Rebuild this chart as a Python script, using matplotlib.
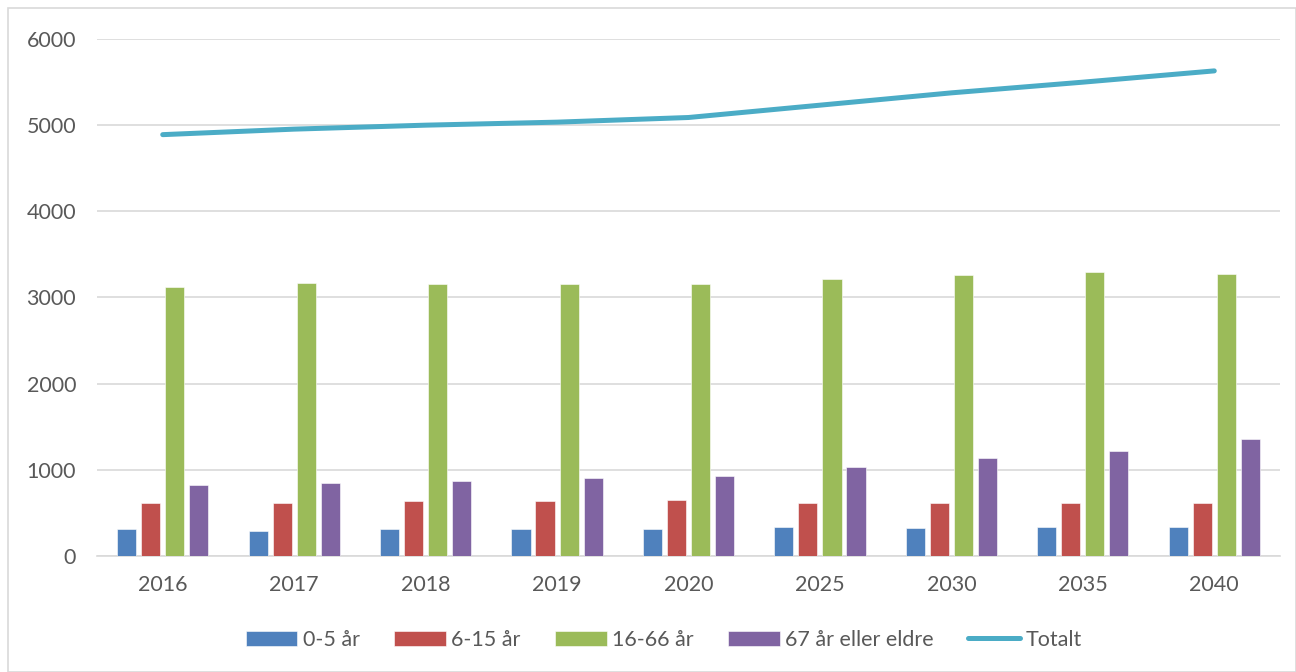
import matplotlib
matplotlib.use("Agg")
import matplotlib.pyplot as plt
import numpy as np
from matplotlib.patches import Rectangle

years = ["2016", "2017", "2018", "2019", "2020", "2025", "2030", "2035", "2040"]
age_0_5 = [310, 290, 310, 310, 317, 336, 328, 336, 336]
age_6_15 = [611, 618, 641, 641, 650, 618, 618, 620, 620]
age_16_66 = [3121, 3164, 3152, 3152, 3155, 3210, 3260, 3291, 3275]
age_67 = [824, 843, 870, 908, 928, 1032, 1137, 1218, 1361]
totalt = [4890, 4954, 5000, 5035, 5089, 5232, 5375, 5499, 5630]
series_labels = ["0-5 år", "6-15 år", "16-66 år", "67 år eller eldre", "Totalt"]
yticks = [0, 1000, 2000, 3000, 4000, 5000, 6000]

colors = ["#4F81BD", "#C0504D", "#9BBB59", "#8064A2"]
line_color = "#4BACC6"

plt.rcParams['font.family'] = ['Lato', 'DejaVu Sans']
FS = 15.5

fig = plt.figure(figsize=(12.96, 6.72), dpi=100)
ax = fig.add_axes([97/1296, (672-556)/672, (1280-97)/1296, (556-39)/672])

x = np.arange(len(years))
pitch = 0.183
width = 0.145
handles = []
for i, (vals, c, lab) in enumerate(zip([age_0_5, age_6_15, age_16_66, age_67], colors, series_labels[:4])):
    h = ax.bar(x + (i - 1.5) * pitch, vals, width=width, color=c, label=lab,
               edgecolor="white", linewidth=0.4, zorder=3)
    handles.append(h)
ln, = ax.plot(x, totalt, color=line_color, linewidth=3.6, label=series_labels[4],
              solid_capstyle="round", zorder=4)
handles.append(ln)

ax.set_xlim(-0.5, len(years) - 0.5)
ax.set_ylim(0, 6000)
ax.set_yticks(yticks)
ax.set_yticklabels([str(v) for v in yticks])
ax.set_xticks(x)
ax.set_xticklabels(years)
ax.grid(axis="y", color="#d9d9d9", linewidth=1.2, zorder=0)
for s in ["top", "right", "left"]:
    ax.spines[s].set_visible(False)
ax.spines["bottom"].set_color("#d9d9d9")
ax.spines["bottom"].set_linewidth(1.2)
ax.tick_params(axis="y", length=0, pad=15, labelsize=FS, labelcolor="#595959")
ax.tick_params(axis="x", length=0, pad=14, labelsize=FS, labelcolor="#595959")

fig.legend(handles, series_labels, loc="center", bbox_to_anchor=(0.512, (672 - 640) / 672), ncol=5,
           frameon=False, fontsize=FS, labelcolor="#595959",
           handlelength=2.4, handleheight=0.7, columnspacing=1.6, handletextpad=0.25)

fig.patches.append(Rectangle((8/1296, 0), 1 - 8/1296, 1 - 8/672, transform=fig.transFigure,
                             fill=False, edgecolor="#d9d9d9", linewidth=1.2))

fig.savefig("out.png", dpi=100)
